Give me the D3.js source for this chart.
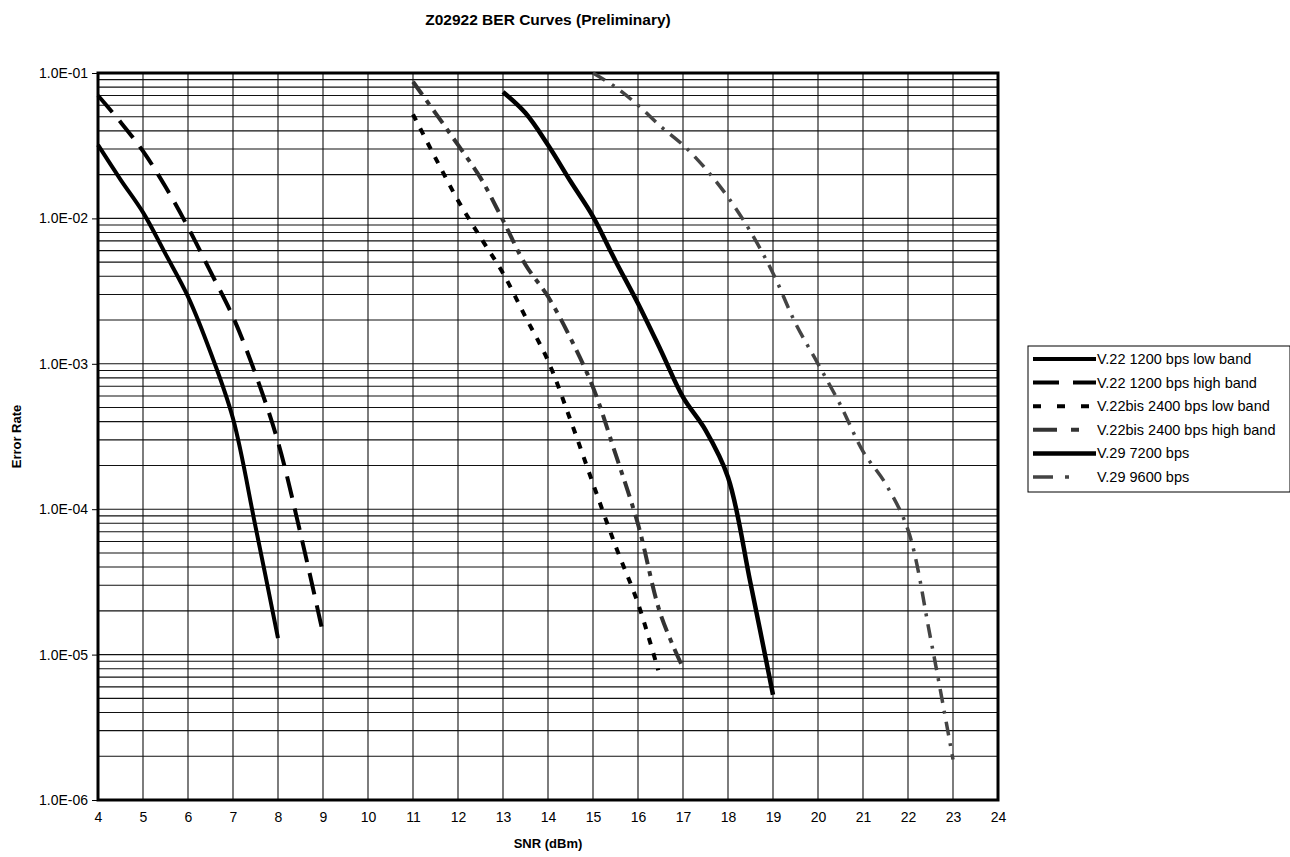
<!DOCTYPE html>
<html>
<head>
<meta charset="utf-8">
<script src="https://cdn.jsdelivr.net/npm/d3@7"></script>
<style>
  html, body { margin: 0; padding: 0; background: #fff; }
  svg { display: block; font-family: "Liberation Sans", Arial, sans-serif; }
</style>
</head>
<body>
<svg id="chart" width="1290" height="857"></svg>
<script>
// ---------------- DATA ----------------
const xTicks = [4,5,6,7,8,9,10,11,12,13,14,15,16,17,18,19,20,21,22,23,24];
const yTickValues = [1e-1, 1e-2, 1e-3, 1e-4, 1e-5, 1e-6];
const yTickLabels = ["1.0E-01","1.0E-02","1.0E-03","1.0E-04","1.0E-05","1.0E-06"];

const seriesNames = [
  "V.22 1200 bps low band",
  "V.22 1200 bps high band",
  "V.22bis 2400 bps low band",
  "V.22bis 2400 bps high band",
  "V.29 7200 bps",
  "V.29 9600 bps"
];

const v22LowX  = [4, 4.5, 5, 5.5, 6, 6.5, 7, 7.5, 8];
const v22LowY  = [3.2e-2, 1.85e-2, 1.1e-2, 5.7e-3, 2.9e-3, 1.2e-3, 4.2e-4, 7.6e-5, 1.3e-5];

const v22HighX = [4, 4.5, 5, 5.5, 6, 6.5, 7, 7.5, 8, 8.5, 9];
const v22HighY = [7.0e-2, 4.6e-2, 2.9e-2, 1.65e-2, 8.7e-3, 4.3e-3, 2.1e-3, 8.5e-4, 2.9e-4, 6.8e-5, 1.4e-5];

const v22bisLowX = [11, 11.5, 12, 12.5, 13, 13.5, 14, 14.5, 15, 15.5, 16, 16.45];
const v22bisLowY = [5.2e-2, 2.6e-2, 1.33e-2, 7.4e-3, 4.2e-3, 2.1e-3, 1.05e-3, 4.1e-4, 1.5e-4, 5.6e-5, 2.25e-5, 7.8e-6];

const v22bisHighX = [11, 11.5, 12, 12.5, 13, 13.5, 14, 14.5, 15, 15.5, 16, 16.5, 17];
const v22bisHighY = [8.7e-2, 5.3e-2, 3.2e-2, 1.9e-2, 9.7e-3, 4.8e-3, 2.9e-3, 1.5e-3, 6.9e-4, 2.4e-4, 7.9e-5, 1.9e-5, 8.1e-6];

const v29_7200X = [13, 13.5, 14, 14.5, 15, 15.5, 16, 16.5, 17, 17.5, 18, 18.5, 19];
const v29_7200Y = [7.4e-2, 5.3e-2, 3.2e-2, 1.8e-2, 1.03e-2, 5.1e-3, 2.6e-3, 1.25e-3, 5.9e-4, 3.5e-4, 1.66e-4, 3.1e-5, 5.3e-6];

const v29_9600X = [15, 15.5, 16, 16.5, 17, 17.5, 18, 18.5, 19, 19.5, 20, 20.5, 21, 21.5, 22, 22.5, 23];
const v29_9600Y = [1.0e-1, 8.0e-2, 6.0e-2, 4.3e-2, 3.2e-2, 2.2e-2, 1.4e-2, 8.1e-3, 4.2e-3, 1.9e-3, 1.0e-3, 5.2e-4, 2.5e-4, 1.5e-4, 7.2e-5, 1.3e-5, 1.9e-6];

// ---------------- BUILD ----------------
const seriesX = [v22LowX, v22HighX, v22bisLowX, v22bisHighX, v29_7200X, v29_9600X];
const seriesY = [v22LowY, v22HighY, v22bisLowY, v22bisHighY, v29_7200Y, v29_9600Y];

const styles = [
  { stroke: "#000", width: 4,   dash: null },
  { stroke: "#000", width: 4,   dash: "22,11" },
  { stroke: "#000", width: 4,   dash: "7,9" },
  { stroke: "#333", width: 4,   dash: "16,7,5,7" },
  { stroke: "#000", width: 4.5, dash: null },
  { stroke: "#444", width: 3.5, dash: "14,8,3,8" }
];
const legendDash = [null, "26,14", "8,16", "24,14,8,40", null, "20,12,4,40"];

const svg = d3.select("#chart");
const m = { left: 98, top: 73, right: 998, bottom: 800 };

const x = d3.scaleLinear().domain([4, 24]).range([m.left, m.right]);
const y = d3.scaleLog().domain([1e-6, 1e-1]).range([m.bottom, m.top]);

// Title
svg.append("text")
  .attr("x", (m.left + m.right) / 2).attr("y", 25)
  .attr("text-anchor", "middle")
  .attr("font-size", 15.5).attr("font-weight", "bold")
  .text("Z02922 BER Curves (Preliminary)");

// Grid
const grid = svg.append("g");
const hLines = [];
for (let e = -6; e < -1; e++) {
  for (let k = 1; k <= 9; k++) hLines.push(k * Math.pow(10, e));
}
grid.selectAll("line.h").data(hLines).join("line")
  .attr("x1", m.left).attr("x2", m.right)
  .attr("y1", d => y(d)).attr("y2", d => y(d))
  .attr("stroke", "#111").attr("stroke-width", 1.1);
grid.selectAll("line.v").data(xTicks).join("line")
  .attr("x1", d => x(d)).attr("x2", d => x(d))
  .attr("y1", m.top).attr("y2", m.bottom)
  .attr("stroke", "#111").attr("stroke-width", 1.1);

// Axes
const yAxis = d3.axisLeft(y).tickValues(yTickValues)
  .tickFormat((d, i) => yTickLabels[i]).tickSize(6).tickPadding(4);
const gy = svg.append("g").attr("transform", `translate(${m.left},0)`).call(yAxis);
gy.select(".domain").remove();
gy.selectAll("text").attr("font-size", 14).attr("font-family", "Liberation Sans, Arial, sans-serif").attr("fill", "#000");
gy.selectAll("line").attr("stroke", "#000");

const xAxis = d3.axisBottom(x).tickValues(xTicks).tickFormat(d3.format("d")).tickSize(0).tickPadding(12);
const gx = svg.append("g").attr("transform", `translate(0,${m.bottom})`).call(xAxis);
gx.select(".domain").remove();
gx.selectAll("text").attr("font-size", 14).attr("font-family", "Liberation Sans, Arial, sans-serif").attr("fill", "#000");

// Frame
svg.append("rect")
  .attr("x", m.left).attr("y", m.top)
  .attr("width", m.right - m.left).attr("height", m.bottom - m.top)
  .attr("fill", "none").attr("stroke", "#000").attr("stroke-width", 3);

// Axis titles
svg.append("text")
  .attr("x", (m.left + m.right) / 2).attr("y", 848)
  .attr("text-anchor", "middle").attr("font-size", 13).attr("font-weight", "bold")
  .text("SNR (dBm)");
svg.append("text")
  .attr("transform", `translate(21,${(m.top + m.bottom) / 2}) rotate(-90)`)
  .attr("text-anchor", "middle").attr("font-size", 13).attr("font-weight", "bold")
  .text("Error Rate");

// Series
const line = d3.line().x(d => x(d[0])).y(d => y(d[1])).curve(d3.curveCatmullRom.alpha(0.5));
const plot = svg.append("g");
seriesX.forEach((xs, i) => {
  const pts = xs.map((v, j) => [v, seriesY[i][j]]);
  const st = styles[i];
  plot.append("path")
    .attr("d", line(pts))
    .attr("fill", "none")
    .attr("stroke", st.stroke)
    .attr("stroke-width", st.width)
    .attr("stroke-dasharray", st.dash)
    .attr("stroke-linejoin", "round");
});

// Legend
const lg = svg.append("g").attr("transform", "translate(1028,346)");
lg.append("rect").attr("x", 0).attr("y", 0).attr("width", 262).attr("height", 146)
  .attr("fill", "#fff").attr("stroke", "#000").attr("stroke-width", 1);
seriesNames.forEach((name, i) => {
  const cy = 13 + i * 23.6;
  const st = styles[i];
  lg.append("line")
    .attr("x1", 5).attr("x2", 68).attr("y1", cy).attr("y2", cy)
    .attr("stroke", st.stroke).attr("stroke-width", st.width)
    .attr("stroke-dasharray", legendDash[i]);
  lg.append("text")
    .attr("x", 69).attr("y", cy).attr("dy", "0.35em")
    .attr("font-size", 14.5)
    .text(name);
});
</script>
</body>
</html>
